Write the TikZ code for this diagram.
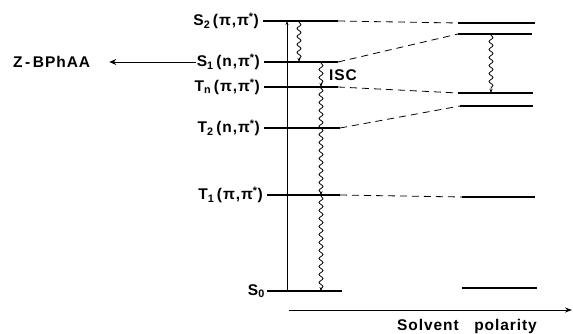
\documentclass[tikz,border=0pt]{standalone}
\usepackage{fontspec}
\setmainfont{Liberation Sans}
\usetikzlibrary{decorations.pathmorphing,arrows.meta}
\begin{document}
\begin{tikzpicture}[x=1pt, y=-1pt,
  level/.style={line width=1.3pt},
  corr/.style={dash pattern=on 7pt off 5pt, line width=0.8pt},
  wavy/.style={decorate, decoration={snake, amplitude=2pt, segment length=8pt,
               pre length=1pt, post length=2pt}, line width=0.8pt},
  lab/.style={font=\fontsize{15.5}{17}\selectfont\bfseries\addfontfeature{LetterSpace=6}, inner sep=1pt},
  tip/.style={-{Stealth[length=4pt, width=3pt]}}]
  \useasboundingbox (0,0) rectangle (573,334);
  % left column
  \coordinate (s2a) at (263,21);  \coordinate (s2b) at (338,21);
  \coordinate (s1a) at (264,62);  \coordinate (s1b) at (338,62);
  \coordinate (tna) at (264,87);  \coordinate (tnb) at (338,87);
  \coordinate (t2a) at (264,128); \coordinate (t2b) at (340,128);
  \coordinate (t1a) at (267,195); \coordinate (t1b) at (340,195);
  \coordinate (s0a) at (267,291); \coordinate (s0b) at (342,291);
  % right column
  \coordinate (rs2a) at (458,23);  \coordinate (rs2b) at (535,23);
  \coordinate (rs1a) at (458,34);  \coordinate (rs1b) at (532,34);
  \coordinate (rtna) at (458,93);  \coordinate (rtnb) at (533,93);
  \coordinate (rt2a) at (460,106); \coordinate (rt2b) at (533,106);
  \coordinate (rt1a) at (462,197); \coordinate (rt1b) at (535,197);
  \coordinate (rs0a) at (462,288); \coordinate (rs0b) at (537,288);
  \foreach \l in {s2,s1,tn,t2,t1,s0}{
    \draw[level] (\l a) -- (\l b);
    \draw[level] (r\l a) -- (r\l b);
  }
  \foreach \l in {s2,s1,tn,t2,t1}
    \draw[corr] (\l b) -- (r\l a);
  % state labels
  \node[lab, anchor=east] (ls2) at ([xshift=-3pt]s2a) {S\textsubscript{2}\,(π,π\textsuperscript{*})};
  \node[lab, anchor=east] (ls1) at ([xshift=-3pt]s1a) {S\textsubscript{1}\,(n,π\textsuperscript{*})};
  \node[lab, anchor=east] (ltn) at ([xshift=-3pt]tna) {T\textsubscript{n}\,(π,π\textsuperscript{*})};
  \node[lab, anchor=east] (lt2) at ([xshift=-3pt]t2a) {T\textsubscript{2}\,(n,π\textsuperscript{*})};
  \node[lab, anchor=east] (lt1) at ([xshift=-3pt]t1a) {T\textsubscript{1}\,(π,π\textsuperscript{*})};
  \node[lab, anchor=east] (ls0) at ([xshift=-1pt]s0a) {S\textsubscript{0}};
  \node[lab, anchor=west] (zb) at (12,62) {Z\,-\,BPhAA};
  \draw[-{Stealth[length=7pt, width=6pt]}, line width=0.9pt] (ls1.west) -- ([xshift=18pt]zb.east);
  % transitions
  \coordinate (ab0) at (287,291); \coordinate (ab2) at (287,21);
  \draw[tip, line width=0.8pt] (ab0) -- (ab2);
  \coordinate (ic2) at (299,21); \coordinate (ic1) at (299,62);
  \draw[wavy, tip] (ic2) -- (ic1);
  \coordinate (is1) at (321,62); \coordinate (isn) at (321,87);
  \coordinate (is3) at (321,195); \coordinate (is0) at (321,291);
  \draw[wavy, tip] (is1) -- (isn);
  \draw[wavy, tip] (isn) -- (is3);
  \draw[wavy, tip] (is3) -- (is0);
  \fill (isn) circle (1.6pt);
  \node[lab, anchor=west] (isc) at (328,75) {ISC};
  \coordinate (rw1) at (491,34); \coordinate (rw2) at (491,93);
  \draw[wavy, tip] (rw1) -- (rw2);
  % solvent axis
  \coordinate (ax0) at (289,310); \coordinate (ax1) at (572,310);
  \draw[-{Stealth[length=7pt, width=5pt]}, line width=0.9pt] (ax0) -- (ax1);
  \node[lab] (sp) at (467,326) {Solvent\quad polarity};
\end{tikzpicture}
\end{document}
